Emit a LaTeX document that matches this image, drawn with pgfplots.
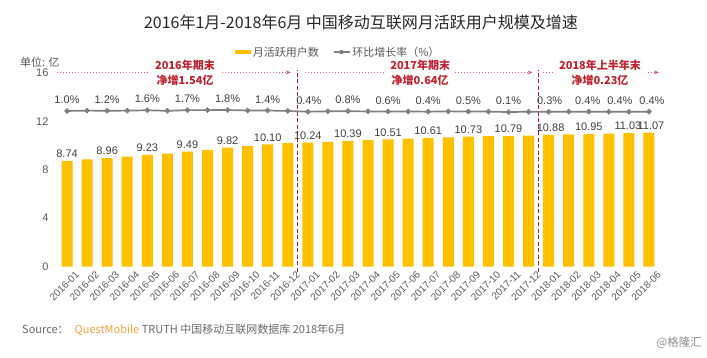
\documentclass[border=0pt]{standalone}
\usepackage{pgfplots}
\pgfplotsset{compat=1.18}
\usepackage{pgfplotstable}
\usepackage{fontspec}
\setmainfont{Liberation Sans}
\newfontfamily\cjk{Noto Sans CJK SC}
\usetikzlibrary{arrows.meta}
\definecolor{barc}{HTML}{FFC000}
\definecolor{linec}{HTML}{808080}
\definecolor{txt}{HTML}{404040}
\definecolor{tickc}{HTML}{595959}
\definecolor{annred}{HTML}{BE2430}
\definecolor{dashred}{HTML}{A3213A}
\definecolor{dotred}{HTML}{D0606A}
\definecolor{qm}{HTML}{F2A33A}

\pgfplotstableread{
x v
0 8.74
1 8.85
2 8.96
3 9.08
4 9.23
5 9.33
6 9.49
7 9.65
8 9.82
9 9.96
10 10.10
11 10.20
12 10.24
13 10.31
14 10.39
15 10.45
16 10.51
17 10.57
18 10.61
19 10.68
20 10.73
21 10.78
22 10.79
23 10.83
24 10.88
25 10.92
26 10.95
27 10.99
28 11.03
29 11.07
}\mau

\pgfplotstableread{
x v lab
0 8.74 8.74
2 8.96 8.96
4 9.23 9.23
6 9.49 9.49
8 9.82 9.82
10 10.10 10.10
12 10.24 10.24
14 10.39 10.39
16 10.51 10.51
18 10.61 10.61
20 10.73 10.73
22 10.79 10.79
24.1 10.88 10.88
26 10.95 10.95
27.95 11.03 11.03
29.1 11.07 11.07
}\maulab

\pgfplotstableread{
x g
0 1.0
1 1.3
2 1.2
3 1.3
4 1.6
5 1.1
6 1.7
7 1.7
8 1.8
9 1.4
10 1.4
11 1.0
12 0.4
13 0.7
14 0.8
15 0.6
16 0.6
17 0.6
18 0.4
19 0.7
20 0.5
21 0.5
22 0.1
23 0.4
24 0.3
25 0.4
26 0.4
27 0.4
28 0.4
29 0.4
}\growth

\pgfplotstableread{
x g lab
0 1.0 1.0
2 1.2 1.2
4 1.6 1.6
6 1.7 1.7
8 1.8 1.8
10 1.4 1.4
12.05 0.4 0.4
14 0.8 0.8
16 0.6 0.6
18 0.4 0.4
20 0.5 0.5
22 0.1 0.1
24.05 0.3 0.3
25.95 0.4 0.4
27.55 0.4 0.4
29.15 0.4 0.4
}\growthlab

\begin{document}
\begin{tikzpicture}[x=1pt,y=1pt]
\path[use as bounding box] (0,0) rectangle (707,357);

\node[font=\cjk\fontsize{16}{19}\selectfont, text=black!85] at (361,335) {2016年1月-2018年6月 中国移动互联网月活跃用户规模及增速};
\node[font=\cjk\fontsize{11}{13}\selectfont, text=tickc, anchor=west, inner sep=0pt] at (20,295) {单位: 亿};

\begin{axis}[
  at={(57pt,90.5pt)}, anchor=south west,
  scale only axis, width=602pt, height=193.5pt,
  xmin=-0.5, xmax=29.5, ymin=0, ymax=16,
  ytick={0,4,8,12,16},
  xtick={0,...,29},
  xticklabels={2016-01,2016-02,2016-03,2016-04,2016-05,2016-06,2016-07,2016-08,2016-09,2016-10,2016-11,2016-12,2017-01,2017-02,2017-03,2017-04,2017-05,2017-06,2017-07,2017-08,2017-09,2017-10,2017-11,2017-12,2018-01,2018-02,2018-03,2018-04,2018-05,2018-06},
  axis line style={draw=none},
  major tick length=0pt,
  tick style={draw=none},
  clip=false,
  /pgf/number format/assume math mode=true,
  yticklabel style={font=\fontsize{11}{13}\selectfont, text=tickc, xshift=-5pt},
  xticklabel style={font=\fontsize{10}{12}\selectfont, text=tickc, rotate=45, anchor=north east, inner sep=1pt, yshift=-7pt, xshift=4pt},
  legend style={at={(0.467,1.108)}, anchor=center, draw=none, fill=none, legend columns=2,
     font=\cjk\fontsize{11}{13}\selectfont, text=tickc,
     /tikz/every even column/.append style={column sep=12pt}},
]
\addplot[ybar, bar width=11pt, fill=barc, draw=none, bar shift=0pt,
  legend image code/.code={\fill[barc] (0pt,-2pt) rectangle (16pt,2pt);}]
  table[x=x, y=v] {\mau};
\addlegendentry{月活跃用户数}
\addlegendimage{legend image code/.code={\draw[linec, line width=1.5pt] (0pt,0pt) -- (16pt,0pt); \fill[linec] (8pt,0pt) circle (2pt);}}
\addlegendentry{环比增长率（\%）}
\addplot[only marks, mark=none, nodes near coords, point meta=explicit symbolic,
  nodes near coords style={font=\fontsize{11}{13}\selectfont, text=txt, anchor=south, inner sep=2pt, yshift=1pt}]
  table[x=x, y=v, meta=lab] {\maulab};

% separators
\draw[dashred, line width=1.3pt, dash pattern=on 4pt off 2.5pt] (axis cs:11.5,-0.45) -- (axis cs:11.5,16.25);
\draw[dashred, line width=1.3pt, dash pattern=on 4pt off 2.5pt] (axis cs:23.5,-0.45) -- (axis cs:23.5,16.25);
% arrows
\draw[dotred, line width=0.8pt, dash pattern=on 1.2pt off 1.8pt, -{Stealth[length=5pt,width=4pt]}] (axis cs:-0.5,16.05) -- (axis cs:11.15,16.05);
\draw[dotred, line width=0.8pt, dash pattern=on 1.2pt off 1.8pt, -{Stealth[length=5pt,width=4pt]}] (axis cs:11.85,16.05) -- (axis cs:23.2,16.05);
\draw[dotred, line width=0.8pt, dash pattern=on 1.2pt off 1.8pt, -{Stealth[length=5pt,width=4pt]}] (axis cs:23.7,16.05) -- (axis cs:29.5,16.05);
\node[fill=white, inner xsep=5pt, inner ysep=1pt, align=center, text=annred, font=\cjk\bfseries\fontsize{11}{15}\selectfont] at (axis cs:5.88,16.05) {2016年期末\\净增1.54亿};
\node[fill=white, inner xsep=5pt, inner ysep=1pt, align=center, text=annred, font=\cjk\bfseries\fontsize{11}{15}\selectfont] at (axis cs:17.6,16.05) {2017年期末\\净增0.64亿};
\node[fill=white, inner xsep=5pt, inner ysep=1pt, align=center, text=annred, font=\cjk\bfseries\fontsize{11}{15}\selectfont] at (axis cs:26.56,16.05) {2018年上半年末\\净增0.23亿};
\end{axis}

\begin{axis}[
  at={(57pt,90.5pt)}, anchor=south west,
  scale only axis, width=602pt, height=193.5pt,
  xmin=-0.5, xmax=29.5, ymin=-127.6, ymax=32.4,
  hide axis, clip=false,
]
\addplot[linec, line width=1.7pt, mark=*, mark size=1.8pt, mark options={fill=linec, draw=linec}]
  table[x=x, y=g] {\growth};
\addplot[only marks, mark=none, nodes near coords={\pgfplotspointmeta\%}, point meta=explicit symbolic,
  nodes near coords style={font=\fontsize{11}{13}\selectfont, text=txt, anchor=south, inner sep=2pt, yshift=5pt}]
  table[x=x, y=g, meta=lab] {\growthlab};
\end{axis}

\node[anchor=west, inner sep=0pt, font=\cjk\fontsize{11}{13}\selectfont, text=tickc!90] at (22,27) {Source：\hspace{6pt}\textcolor{qm}{QuestMobile} TRUTH 中国移动互联网数据库 2018年6月};
\node[anchor=east, inner sep=0pt, font=\cjk\fontsize{11.5}{13}\selectfont, text=black!45] at (702,14) {@格隆汇};
\end{tikzpicture}
\end{document}
